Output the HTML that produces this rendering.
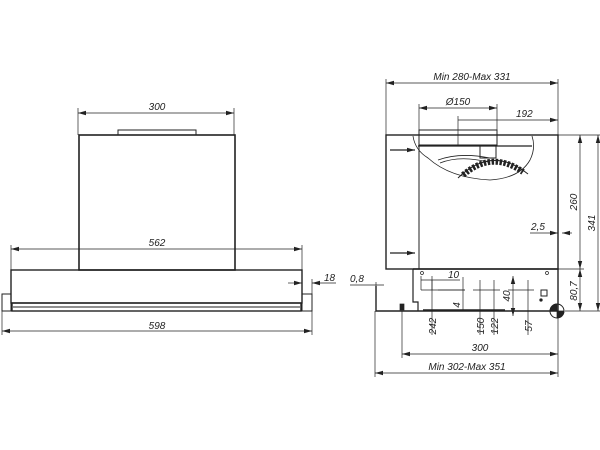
<!DOCTYPE html>
<html><head><meta charset="utf-8"><style>
html,body{margin:0;padding:0;background:#fff;width:600px;height:450px;overflow:hidden}
svg{display:block}
text{font-family:"Liberation Sans",sans-serif;font-style:italic;font-size:10px;fill:#222}
</style></head><body>
<svg width="600" height="450" viewBox="0 0 600 450" xmlns="http://www.w3.org/2000/svg">
<defs>
<marker id="a" markerWidth="8" markerHeight="6" refX="8" refY="3" orient="auto-start-reverse" markerUnits="userSpaceOnUse"><path d="M0,0.8 L8,3 L0,5.2z" fill="#222"/></marker>
</defs>
<g stroke="#222" fill="none" stroke-width="0.7">
<!-- LEFT VIEW -->
<line x1="78" y1="113" x2="234" y2="113" marker-start="url(#a)" marker-end="url(#a)"/>
<line x1="78" y1="108" x2="78" y2="135"/><line x1="234" y1="108" x2="234" y2="135"/>
<rect x="118" y="130" width="78" height="5" stroke-width="1"/>
<rect x="79" y="135" width="156" height="135" stroke-width="1.6"/>
<line x1="11" y1="249" x2="302" y2="249" marker-start="url(#a)" marker-end="url(#a)"/>
<line x1="11" y1="245" x2="11" y2="270"/><line x1="302" y1="245" x2="302" y2="270"/>
<rect x="11" y="270" width="291" height="33" stroke-width="1.4"/>
<rect x="12" y="303" width="289" height="8" stroke-width="1.4"/>
<line x1="13" y1="307" x2="300" y2="307" stroke-width="1"/>
<rect x="2" y="294" width="9" height="17" stroke-width="1"/>
<rect x="302" y="294" width="10" height="17" stroke-width="1"/>
<line x1="2" y1="311" x2="2" y2="335"/><line x1="312" y1="311" x2="312" y2="335"/>
<line x1="2" y1="331" x2="312" y2="331" marker-start="url(#a)" marker-end="url(#a)"/>
<line x1="288" y1="283" x2="302" y2="283" marker-end="url(#a)"/>
<line x1="336" y1="283" x2="312" y2="283" marker-end="url(#a)"/>
<line x1="312" y1="279" x2="312" y2="294"/>
<!-- RIGHT VIEW -->
<line x1="386" y1="83" x2="558" y2="83" marker-start="url(#a)" marker-end="url(#a)"/>
<line x1="386" y1="79" x2="386" y2="135"/><line x1="558" y1="79" x2="558" y2="135"/>
<line x1="419" y1="108" x2="497" y2="108" marker-start="url(#a)" marker-end="url(#a)"/>
<line x1="419" y1="104" x2="419" y2="130"/><line x1="497" y1="104" x2="497" y2="130"/>
<line x1="458" y1="120" x2="558" y2="120" marker-end="url(#a)"/>
<line x1="458" y1="116" x2="458" y2="145"/>
<rect x="419" y="130" width="78" height="15" stroke-width="1"/>
<rect x="386" y="135" width="172" height="134" stroke-width="1.4"/>
<line x1="419" y1="145" x2="419" y2="269" stroke-width="1"/>
<line x1="390" y1="150" x2="415" y2="150" stroke-width="1.2" marker-end="url(#a)"/>
<line x1="390" y1="253" x2="415" y2="253" stroke-width="1.2" marker-end="url(#a)"/>
<path d="M413,136 Q415,150 428,158 Q450,178 490,180 Q520,178 530,160 Q536,148 532,136" stroke-width="0.8"/>
<line x1="418" y1="146" x2="532" y2="146" stroke-width="1.2"/>
<path d="M438,160 Q460,152 490,158 M440,163 Q460,155 488,162" stroke-width="0.8"/>
<path d="M463,175 Q492,150 523,172" stroke-width="6" stroke-dasharray="2.5 1.5"/>
<path d="M458,178 Q492,145 528,174" stroke-width="1"/>
<rect x="480" y="146" width="16" height="12" stroke-width="1"/>
<!-- lower part -->
<path d="M413,269 L558,269 L558,311 L376,311 L376,286" stroke-width="1.4"/>
<path d="M413,269 L413,302 L418,302 L418,311" stroke-width="1.2"/>
<rect x="400" y="304" width="4" height="6" fill="#222"/>
<line x1="423" y1="310" x2="505" y2="310" stroke-width="1.5"/>
<circle cx="422" cy="273" r="1.5"/><circle cx="547" cy="273" r="1.5"/>
<rect x="541" y="290" width="6" height="6" stroke-width="1"/>
<circle cx="541" cy="300" r="1.3" fill="#222"/>
<line x1="421" y1="290" x2="465" y2="290"/>
<line x1="438" y1="290" x2="465" y2="290" stroke="#999" stroke-width="2"/>
<line x1="473" y1="290" x2="500" y2="290"/><line x1="508" y1="290" x2="534" y2="290"/>
<line x1="432" y1="280" x2="432" y2="335"/><line x1="480" y1="280" x2="480" y2="335"/>
<line x1="494" y1="280" x2="494" y2="335"/><line x1="528" y1="280" x2="528" y2="335"/>
<line x1="402" y1="311" x2="402" y2="358"/><line x1="375" y1="311" x2="375" y2="377"/>
<line x1="558" y1="311" x2="558" y2="377"/>
<line x1="421" y1="280" x2="460" y2="280"/>
<line x1="421" y1="276" x2="421" y2="290"/><line x1="432" y1="276" x2="432" y2="290"/>
<line x1="463" y1="277" x2="463" y2="310"/>
<line x1="513" y1="276" x2="513" y2="316" marker-start="url(#a)" marker-end="url(#a)"/>
<line x1="350" y1="285" x2="384" y2="285"/>
<line x1="376" y1="282" x2="376" y2="288"/>
<line x1="402" y1="354" x2="558" y2="354" marker-start="url(#a)" marker-end="url(#a)"/>
<line x1="375" y1="373" x2="558" y2="373" marker-start="url(#a)" marker-end="url(#a)"/>
<!-- right dims -->
<line x1="558" y1="135" x2="602" y2="135"/><line x1="558" y1="269" x2="584" y2="269"/>
<line x1="565" y1="311" x2="602" y2="311"/>
<line x1="580" y1="135" x2="580" y2="269" marker-start="url(#a)" marker-end="url(#a)"/>
<line x1="580" y1="269" x2="580" y2="311" marker-start="url(#a)" marker-end="url(#a)"/>
<line x1="598" y1="135" x2="598" y2="311" marker-start="url(#a)" marker-end="url(#a)"/>
<line x1="530" y1="233" x2="558" y2="233" marker-end="url(#a)"/>
<line x1="572" y1="233" x2="562" y2="233" marker-end="url(#a)"/>
<circle cx="557" cy="311" r="7" stroke-width="1"/>
<path d="M557,311 L557,304 A7,7 0 0,0 550,311z M557,311 L557,318 A7,7 0 0,0 564,311z" fill="#222"/>
</g>
<g>
<text x="157" y="110" text-anchor="middle">300</text>
<text x="157" y="246" text-anchor="middle">562</text>
<text x="157" y="329" text-anchor="middle">598</text>
<text x="324" y="281">18</text>
<text x="472" y="80" text-anchor="middle">Min 280-Max 331</text>
<text x="458" y="105" text-anchor="middle">Ø150</text>
<text x="516" y="117">192</text>
<text x="531" y="230">2,5</text>
<text x="350" y="282">0,8</text>
<text x="448" y="278">10</text>
<text x="480" y="351" text-anchor="middle">300</text>
<text x="467" y="370" text-anchor="middle">Min 302-Max 351</text>
<text transform="translate(577,202) rotate(-90)" text-anchor="middle">260</text>
<text transform="translate(595,223) rotate(-90)" text-anchor="middle">341</text>
<text transform="translate(577,291) rotate(-90)" text-anchor="middle">80,7</text>
<text transform="translate(510,296) rotate(-90)" text-anchor="middle">40</text>
<text transform="translate(460,305) rotate(-90)" text-anchor="middle">4</text>
<text transform="translate(436,326) rotate(-90)" text-anchor="middle">242</text>
<text transform="translate(484,326) rotate(-90)" text-anchor="middle">150</text>
<text transform="translate(498,326) rotate(-90)" text-anchor="middle">122</text>
<text transform="translate(532,326) rotate(-90)" text-anchor="middle">57</text>
</g>
</svg>
</body></html>
